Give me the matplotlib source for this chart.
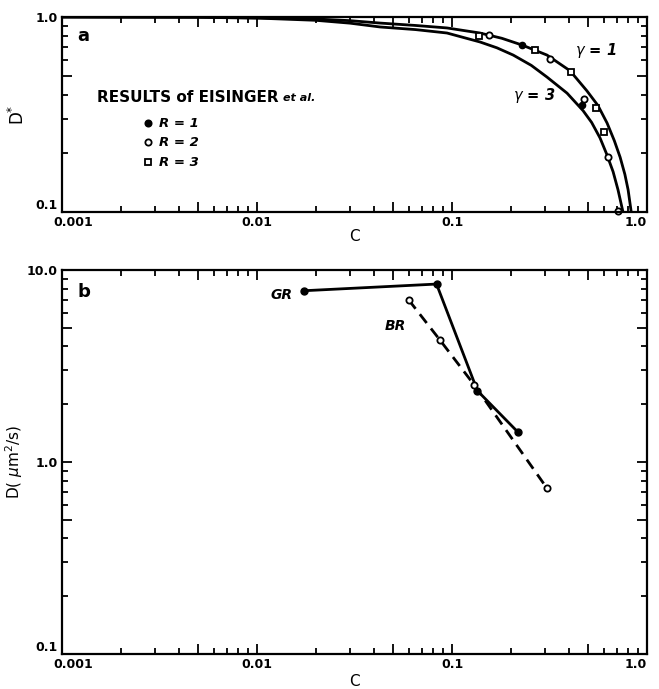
import matplotlib
matplotlib.use("Agg")
import matplotlib.pyplot as plt
from matplotlib.transforms import ScaledTranslation

# ---- panel a: D* vs C (curves) ----
gamma1_c = [0.001, 0.005, 0.0104, 0.02, 0.03, 0.0428, 0.065, 0.0942, 0.139, 0.18, 0.229,
            0.307, 0.403, 0.492, 0.56, 0.624, 0.68, 0.728, 0.77, 0.800, 0.830]
gamma1_d = [1.0, 0.998, 0.99, 0.977, 0.958, 0.931, 0.905, 0.879, 0.828, 0.778, 0.718,
            0.638, 0.530, 0.418, 0.352, 0.286, 0.232, 0.191, 0.156, 0.130, 0.100]
gamma3_c = [0.001, 0.005, 0.0104, 0.02, 0.03, 0.0428, 0.065, 0.0942, 0.139, 0.17, 0.206,
            0.255, 0.307, 0.389, 0.470, 0.52, 0.574, 0.62, 0.670, 0.71, 0.753]
gamma3_d = [1.0, 0.997, 0.986, 0.962, 0.93, 0.889, 0.862, 0.828, 0.745, 0.695, 0.638,
            0.565, 0.492, 0.407, 0.331, 0.288, 0.240, 0.199, 0.161, 0.130, 0.100]

# Eisinger et al. points
r1_c = [0.229, 0.464]
r1_d = [0.72, 0.354]
r2_c = [0.155, 0.318, 0.475, 0.631, 0.71]
r2_d = [0.81, 0.61, 0.38, 0.191, 0.101]
r3_c = [0.137, 0.267, 0.408, 0.547, 0.601]
r3_d = [0.80, 0.68, 0.52, 0.341, 0.257]

# ---- panel b: D (um^2/s) vs C ----
gr_c = [0.0174, 0.0833, 0.135, 0.218]
gr_d = [7.8, 8.45, 2.35, 1.43]
br_c = [0.060, 0.0867, 0.130, 0.307]
br_d = [6.98, 4.32, 2.52, 0.73]

x_ticks = [0.001, 0.005, 0.01, 0.05, 0.1, 0.5, 1.0]
x_labels = ["0.001", "", "0.01", "", "0.1", "", "1.0"]
x_minor = [k * d for d in (0.001, 0.01, 0.1) for k in (2, 3, 4, 6, 7, 8, 9)]

FS = 9
FW = "bold"

fig = plt.figure(figsize=(6.59, 6.89), dpi=100)
ax1 = fig.add_axes([0.0941, 0.6923, 0.8877, 0.2830])
ax2 = fig.add_axes([0.0941, 0.0508, 0.8877, 0.5573])


def style_axis(ax):
    ax.set_xscale("log")
    ax.set_yscale("log")
    for s in ax.spines.values():
        s.set_linewidth(1.6)
    ax.tick_params(which="both", direction="in", top=True, right=True, width=1.3,
                   labelsize=FS, pad=3)
    ax.tick_params(which="major", length=7)
    ax.tick_params(which="minor", length=4)
    ax.set_xticks(x_ticks)
    ax.set_xticklabels(x_labels, fontweight=FW)
    ax.set_xticks(x_minor, minor=True)
    ax.set_xticklabels([], minor=True)
    ax.set_xlim(0.001, 1.0)


def fix_end_labels(ax):
    xl = ax.get_xticklabels()
    xl[0].set_ha("left")
    xl[0].set_transform(xl[0].get_transform() + ScaledTranslation(-0.09, 0, fig.dpi_scale_trans))
    xl[-1].set_ha("right")
    yl = ax.get_yticklabels()
    yl[0].set_va("bottom")


# --- a ---
style_axis(ax1)
ax1.plot(gamma1_c, gamma1_d, color="black", lw=2.0, solid_capstyle="round")
ax1.plot(gamma3_c, gamma3_d, color="black", lw=2.0, solid_capstyle="round")
ax1.plot(r1_c, r1_d, "o", color="black", ms=4.5, clip_on=False)
ax1.plot(r2_c, r2_d, "o", mfc="white", mec="black", mew=1.3, ms=4.5, clip_on=False)
ax1.plot(r3_c, r3_d, "s", mfc="white", mec="black", mew=1.3, ms=4.2, clip_on=False)
ax1.set_ylim(0.1, 1.0)
ax1.set_yticks([0.1, 0.5, 1.0])
ax1.set_yticklabels(["0.1", "", "1.0"], fontweight=FW)
ax1.set_yticks([0.2, 0.3, 0.4, 0.6, 0.7, 0.8, 0.9], minor=True)
ax1.set_yticklabels([], minor=True)
ax1.set_xlabel("C", fontsize=11, labelpad=0)
ax1.set_ylabel("D$^{*}$", fontsize=12)
ax1.yaxis.set_label_coords(-0.058, 0.5)
fix_end_labels(ax1)

ax1.text(0.026, 0.875, "a", transform=ax1.transAxes, fontsize=13, fontweight="bold")
ax1.text(0.060, 0.585, "RESULTS of EISINGER", transform=ax1.transAxes, fontsize=11,
         fontweight="bold", va="center")
ax1.text(0.378, 0.585, "et al.", transform=ax1.transAxes, fontsize=8,
         fontweight="bold", style="italic", va="center")
legend_y = [0.455, 0.358, 0.255]
legend_txt = ["R = 1", "R = 2", "R = 3"]
legend_mk = [dict(marker="o", mfc="black"), dict(marker="o", mfc="white"),
             dict(marker="s", mfc="white")]
for yy, tt, mk in zip(legend_y, legend_txt, legend_mk):
    ax1.plot([0.147], [yy], transform=ax1.transAxes, ls="none", mec="black",
             mew=1.3, ms=4.5, **mk)
    ax1.text(0.165, yy, tt, transform=ax1.transAxes, fontsize=9.5, fontweight="bold",
             style="italic", va="center")
ax1.text(0.912, 0.83, "$\\gamma$ = 1", transform=ax1.transAxes, fontsize=10.5,
         fontweight="bold", style="italic", ha="center", va="center")
ax1.text(0.807, 0.60, "$\\gamma$ = 3", transform=ax1.transAxes, fontsize=10.5,
         fontweight="bold", style="italic", ha="center", va="center")

# --- b ---
style_axis(ax2)
ax2.plot(gr_c, gr_d, "-o", color="black", lw=2.0, ms=5)
ax2.plot(br_c, br_d, "--o", color="black", lw=2.0, ms=4.5, mfc="white", mew=1.3,
         dashes=(4, 2.5))
ax2.set_ylim(0.1, 10.0)
ax2.set_yticks([0.1, 0.5, 1.0, 5.0, 10.0])
ax2.set_yticklabels(["0.1", "", "1.0", "", "10.0"], fontweight=FW)
ax2.set_yticks([0.2, 0.3, 0.4, 0.6, 0.7, 0.8, 0.9, 2, 3, 4, 6, 7, 8, 9], minor=True)
ax2.set_yticklabels([], minor=True)
ax2.set_xlabel("C", fontsize=11, labelpad=2)
ax2.set_ylabel("D( $\\mu$m$^2$/s)", fontsize=11)
ax2.yaxis.set_label_coords(-0.063, 0.5)
fix_end_labels(ax2)
ax2.text(0.026, 0.93, "b", transform=ax2.transAxes, fontsize=13, fontweight="bold")
ax2.text(0.375, 0.935, "GR", transform=ax2.transAxes, fontsize=10, fontweight="bold",
         style="italic", ha="center", va="center")
ax2.text(0.57, 0.855, "BR", transform=ax2.transAxes, fontsize=10, fontweight="bold",
         style="italic", ha="center", va="center")

fig.savefig("out.png", dpi=100)
